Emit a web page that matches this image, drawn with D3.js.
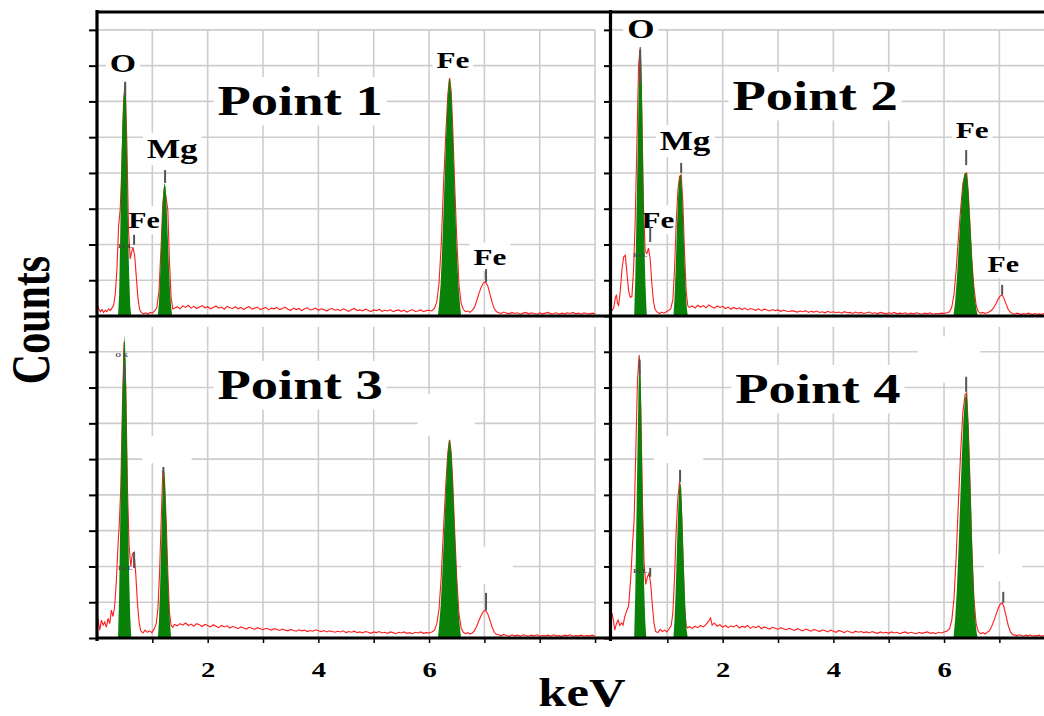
<!DOCTYPE html>
<html>
<head>
<meta charset="utf-8">
<script src="https://cdn.jsdelivr.net/npm/d3@7"></script>
<style>
  body { margin: 0; background: #fff; }
  text { font-family: 'Liberation Serif', 'Times New Roman', serif; font-weight: bold; }
</style>
</head>
<body>
<div id="chart"></div>
<script>
// ---- data (counts in arbitrary units, 100 = one grid step) ----
var titles = ['Point 1', 'Point 2', 'Point 3', 'Point 4'];
var gridCounts = [100, 200, 300, 400, 500, 600, 700, 800];
var axisCounts = [0, 100, 200, 300, 400, 500, 600, 700, 800];
var keVGridLeft = [1, 2, 3, 4, 5, 6, 7, 8, 9];
var keVGridRight = [1, 2, 3, 4, 5, 6, 7];
var keVLabels = [2, 4, 6];

// red spectra [keV, counts]
var p1Spectrum = [[0.00,34],[0.03,22],[0.06,12],[0.09,18],[0.12,10],[0.15,16],[0.18,12],[0.21,20],[0.24,15],[0.27,22],[0.30,30],[0.33,60],[0.36,130],
 [0.39,250],[0.42,300],[0.45,420],[0.48,600],[0.51,650],[0.54,480],[0.57,240],
 [0.60,160],[0.62,175],[0.65,192],[0.68,170],[0.71,110],[0.74,50],[0.77,18],
 [0.80,10],[0.84,6],[0.88,9],[0.92,5],[0.96,10],[1.00,8],[1.04,14],[1.08,22],
 [1.12,70],[1.16,200],[1.19,316],[1.22,360],[1.25,330],[1.28,296],[1.31,150],[1.34,50],[1.37,20],
 [1.40,22],[1.45,26],[1.50,20],[1.55,28],[1.60,24],[1.65,30],[1.70,22],[1.75,27],[1.80,21],[1.85,25],[1.90,29],[1.95,23],[2.00,26],[2.05,20],[2.10,24],[2.15,28],[2.20,22],[2.25,25],[2.30,19],[2.35,27],[2.40,23],[2.45,21],[2.50,26],[2.55,20],[2.60,24],[2.65,18],[2.70,23],[2.75,26],[2.80,19],[2.85,22],[2.90,25],[2.95,18],[3.00,21],[3.05,24],[3.10,17],[3.15,22],[3.20,20],[3.25,24],[3.30,18],[3.35,21],[3.40,25],[3.45,19],[3.50,16],[3.55,22],[3.60,18],[3.65,21],[3.70,15],[3.75,20],[3.80,23],[3.85,17],[3.90,19],[3.95,22],[4.00,16],[4.05,20],[4.10,18],[4.15,14],[4.20,19],[4.25,21],[4.30,16],[4.35,18],[4.40,15],[4.45,20],[4.50,17],[4.55,13],[4.60,18],[4.65,21],[4.70,15],[4.75,17],[4.80,14],[4.85,19],[4.90,16],[4.95,12],[5.00,17],[5.05,15],[5.10,19],[5.15,13],[5.20,16],[5.25,14],[5.30,18],[5.35,12],[5.40,15],[5.45,17],[5.50,13],[5.55,16],[5.60,11],[5.65,15],[5.70,18],[5.75,13],[5.80,14],[5.85,17],[5.90,12],[5.95,15],[6.00,16],[6.05,14],
 [6.10,22],[6.14,40],[6.18,90],[6.22,200],[6.26,360],[6.30,500],[6.34,620],[6.37,665],[6.40,630],[6.43,520],[6.46,380],[6.50,220],[6.54,90],[6.58,35],[6.62,18],[6.66,12],[6.70,14],[6.74,10],[6.78,16],
 [6.82,24],[6.86,42],[6.90,62],[6.94,80],[6.98,92],[7.02,95],[7.06,85],[7.10,62],[7.14,38],[7.18,20],[7.22,12],
 [7.25,10],[7.30,7],[7.35,11],[7.40,8],[7.45,6],[7.50,10],[7.55,7],[7.60,9],[7.65,5],[7.70,8],[7.75,10],[7.80,6],[7.85,9],[7.90,7],[7.95,5],[8.00,9],[8.05,6],[8.10,8],[8.15,10],[8.20,6],[8.25,7],[8.30,9],[8.35,5],[8.40,8],[8.45,6],[8.50,9],[8.55,7],[8.60,10],[8.65,6],[8.70,8],[8.75,5],[8.80,9],[8.85,7],[8.90,6],[8.95,8],[9.00,6]];

var p2Spectrum = [[0.00,15],[0.03,22],[0.06,50],[0.08,60],[0.10,35],[0.12,30],[0.15,70],[0.18,130],[0.21,165],[0.24,170],[0.27,120],[0.30,70],[0.33,52],[0.36,55],[0.39,130],
 [0.42,270],[0.45,480],[0.48,700],[0.51,752],[0.54,560],[0.57,300],
 [0.60,180],[0.63,175],[0.66,190],[0.69,160],[0.72,90],[0.75,40],[0.78,18],
 [0.82,10],[0.86,7],[0.90,11],[0.94,8],[0.98,12],[1.02,15],[1.06,20],[1.10,45],
 [1.13,130],[1.16,260],[1.19,350],[1.22,390],[1.25,395],[1.28,320],[1.31,180],[1.34,70],[1.37,28],
 [1.40,24],[1.45,28],[1.50,22],[1.55,30],[1.60,25],[1.65,29],[1.70,23],[1.75,31],[1.80,26],[1.85,22],[1.90,28],[1.95,24],[2.00,27],[2.05,21],[2.10,25],[2.15,19],[2.20,24],[2.25,20],[2.30,23],[2.35,18],[2.40,22],[2.45,17],[2.50,21],[2.55,19],[2.60,16],[2.65,20],[2.70,15],[2.75,19],[2.80,17],[2.85,14],[2.90,18],[2.95,15],[3.00,17],[3.05,13],[3.10,16],[3.15,14],[3.20,12],[3.25,15],[3.30,13],[3.35,11],[3.40,14],[3.45,12],[3.50,15],[3.55,10],[3.60,13],[3.65,11],[3.70,14],[3.75,10],[3.80,12],[3.85,9],[3.90,13],[3.95,10],[4.00,12],[4.05,9],[4.10,11],[4.15,8],[4.20,12],[4.25,9],[4.30,10],[4.35,7],[4.40,11],[4.45,8],[4.50,10],[4.55,7],[4.60,9],[4.65,11],[4.70,7],[4.75,9],[4.80,6],[4.85,10],[4.90,8],[4.95,6],[5.00,9],[5.05,7],[5.10,10],[5.15,6],[5.20,8],[5.25,7],[5.30,9],[5.35,5],[5.40,8],[5.45,6],[5.50,9],[5.55,7],[5.60,5],[5.65,8],[5.70,6],[5.75,9],[5.80,5],[5.85,7],[5.90,6],[5.95,8],[6.00,7],[6.05,9],
 [6.10,12],[6.14,25],[6.18,60],[6.22,130],[6.26,220],[6.30,300],[6.34,370],[6.38,398],[6.41,400],[6.44,340],[6.47,250],[6.50,160],[6.54,80],[6.58,30],[6.62,12],[6.66,8],[6.70,10],[6.74,7],[6.78,9],[6.82,12],
 [6.86,16],[6.90,24],[6.94,35],[6.98,48],[7.02,57],[7.05,59],[7.08,50],[7.12,34],[7.16,18],[7.20,10],[7.24,7],
 [7.28,5],[7.32,8],[7.36,6],[7.40,4],[7.44,7],[7.48,5],[7.52,8],[7.56,6],[7.60,4],[7.64,7],[7.68,5],[7.72,6],[7.76,4],[7.80,7],[7.84,5]];

var p3Spectrum = [[0.00,70],[0.03,40],[0.05,22],[0.08,50],[0.11,36],[0.14,45],[0.17,30],[0.20,55],[0.23,40],[0.26,78],[0.29,60],[0.32,90],[0.35,160],[0.38,260],[0.40,310],
 [0.43,420],[0.46,650],[0.49,828],[0.52,700],[0.55,420],[0.58,260],
 [0.61,200],[0.64,235],[0.67,240],[0.70,180],[0.73,100],[0.76,45],[0.79,20],
 [0.83,14],[0.87,22],[0.91,16],[0.95,20],[0.99,15],[1.03,24],[1.07,40],
 [1.10,80],[1.13,180],[1.16,330],[1.19,470],[1.22,440],[1.25,330],[1.28,180],[1.31,70],[1.34,35],
 [1.37,30],[1.40,38],[1.45,34],[1.50,40],[1.55,36],[1.60,42],[1.65,35],[1.70,39],[1.75,33],[1.80,40],[1.85,37],[1.90,32],[1.95,38],[2.00,35],[2.05,31],[2.10,37],[2.15,33],[2.20,29],[2.25,35],[2.30,31],[2.35,34],[2.40,28],[2.45,32],[2.50,30],[2.55,26],[2.60,31],[2.65,28],[2.70,25],[2.75,30],[2.80,27],[2.85,24],[2.90,29],[2.95,26],[3.00,23],[3.05,27],[3.10,25],[3.15,22],[3.20,26],[3.25,24],[3.30,21],[3.35,25],[3.40,22],[3.45,20],[3.50,24],[3.55,21],[3.60,19],[3.65,23],[3.70,20],[3.75,22],[3.80,18],[3.85,21],[3.90,19],[3.95,23],[4.00,20],[4.05,18],[4.10,21],[4.15,17],[4.20,20],[4.25,18],[4.30,16],[4.35,19],[4.40,17],[4.45,20],[4.50,15],[4.55,18],[4.60,16],[4.65,19],[4.70,15],[4.75,17],[4.80,14],[4.85,18],[4.90,16],[4.95,13],[5.00,17],[5.05,15],[5.10,18],[5.15,14],[5.20,16],[5.25,13],[5.30,17],[5.35,15],[5.40,12],[5.45,16],[5.50,14],[5.55,17],[5.60,13],[5.65,15],[5.70,12],[5.75,16],[5.80,14],[5.85,17],[5.90,13],[5.95,15],[6.00,14],[6.05,17],
 [6.10,22],[6.14,40],[6.18,80],[6.22,170],[6.26,300],[6.30,420],[6.34,520],[6.37,554],[6.40,520],[6.43,430],[6.46,310],[6.50,170],[6.54,70],[6.58,28],[6.62,16],[6.66,12],[6.70,15],[6.74,11],[6.78,14],
 [6.82,20],[6.86,32],[6.90,48],[6.94,62],[6.98,74],[7.02,78],[7.06,68],[7.10,50],[7.14,30],[7.18,16],[7.22,10],
 [7.26,9],[7.30,6],[7.35,10],[7.40,7],[7.45,5],[7.50,9],[7.55,6],[7.60,8],[7.65,5],[7.70,9],[7.75,7],[7.80,5],[7.85,8],[7.90,6],[7.95,9],[8.00,5],[8.05,7],[8.10,6],[8.15,8],[8.20,5],[8.25,9],[8.30,6],[8.35,7],[8.40,5],[8.45,8],[8.50,6],[8.55,9],[8.60,5],[8.65,7],[8.70,6],[8.75,8],[8.80,5],[8.85,7],[8.90,6],[8.95,8],[9.00,5]];

var p4Spectrum = [[0.00,70],[0.03,45],[0.05,22],[0.08,40],[0.11,50],[0.14,35],[0.17,42],[0.20,36],[0.23,60],[0.26,73],[0.30,90],[0.34,170],[0.37,260],
 [0.40,330],[0.43,520],[0.46,720],[0.49,790],[0.52,640],[0.55,380],[0.58,210],
 [0.61,150],[0.64,170],[0.67,182],[0.70,150],[0.73,90],[0.76,40],[0.79,18],
 [0.83,15],[0.87,24],[0.91,18],[0.95,22],[0.99,17],[1.03,25],[1.07,35],
 [1.10,70],[1.13,170],[1.16,300],[1.19,390],[1.22,436],[1.25,380],[1.28,240],[1.31,90],[1.34,35],
 [1.37,28],[1.40,32],[1.45,27],[1.50,33],[1.55,29],[1.60,35],[1.65,31],[1.70,38],[1.75,48],[1.78,56],[1.81,36],[1.85,42],[1.90,33],[1.95,37],[2.00,30],[2.05,35],[2.10,29],[2.15,34],[2.20,31],[2.25,36],[2.30,28],[2.35,33],[2.40,30],[2.45,35],[2.50,27],[2.55,32],[2.60,29],[2.65,34],[2.70,26],[2.75,31],[2.80,28],[2.85,25],[2.90,30],[2.95,27],[3.00,24],[3.05,29],[3.10,26],[3.15,23],[3.20,27],[3.25,24],[3.30,21],[3.35,26],[3.40,23],[3.45,20],[3.50,25],[3.55,22],[3.60,19],[3.65,24],[3.70,21],[3.75,18],[3.80,23],[3.85,20],[3.90,17],[3.95,22],[4.00,19],[4.05,16],[4.10,21],[4.15,18],[4.20,15],[4.25,20],[4.30,17],[4.35,14],[4.40,19],[4.45,16],[4.50,18],[4.55,15],[4.60,17],[4.65,14],[4.70,18],[4.75,15],[4.80,13],[4.85,17],[4.90,14],[4.95,16],[5.00,13],[5.05,17],[5.10,14],[5.15,16],[5.20,12],[5.25,15],[5.30,17],[5.35,13],[5.40,16],[5.45,14],[5.50,12],[5.55,16],[5.60,13],[5.65,15],[5.70,17],[5.75,13],[5.80,15],[5.85,12],[5.90,16],[5.95,14],[6.00,17],[6.05,19],
 [6.10,26],[6.14,50],[6.18,110],[6.22,230],[6.26,380],[6.30,520],[6.34,630],[6.38,680],[6.41,685],[6.44,580],[6.47,430],[6.50,260],[6.54,110],[6.58,40],[6.62,18],[6.66,12],[6.70,15],[6.74,11],[6.78,16],[6.82,20],
 [6.86,32],[6.90,48],[6.94,66],[6.98,84],[7.02,95],[7.05,98],[7.08,88],[7.12,62],[7.16,35],[7.20,17],[7.24,10],
 [7.28,8],[7.32,6],[7.36,9],[7.40,7],[7.44,5],[7.48,8],[7.52,6],[7.56,9],[7.60,5],[7.64,7],[7.68,6],[7.72,8],[7.76,5],[7.80,7],[7.84,6]];

// green fitted peaks (O K, Mg K, Fe K-alpha)
var p1Peaks = [
 [[0.38,0],[0.40,60],[0.42,230],[0.44,420],[0.46,540],[0.48,610],[0.50,655],[0.52,640],[0.54,470],[0.56,260],[0.58,120],[0.60,30],[0.62,0]],
 [[1.10,0],[1.12,40],[1.14,110],[1.16,200],[1.18,290],[1.20,350],[1.22,372],[1.24,360],[1.26,300],[1.28,220],[1.30,140],[1.32,70],[1.34,25],[1.36,0]],
 [[6.16,0],[6.18,30],[6.21,90],[6.24,200],[6.27,330],[6.30,470],[6.33,590],[6.36,660],[6.38,665],[6.41,600],[6.44,470],[6.47,320],[6.50,190],[6.53,90],[6.56,30],[6.58,0]]];
var p2Peaks = [
 [[0.40,0],[0.42,100],[0.44,260],[0.46,430],[0.48,620],[0.50,740],[0.52,752],[0.54,640],[0.56,430],[0.58,240],[0.60,110],[0.62,30],[0.63,0]],
 [[1.11,0],[1.13,50],[1.15,130],[1.17,230],[1.19,320],[1.21,375],[1.23,395],[1.25,392],[1.27,340],[1.29,250],[1.31,160],[1.33,80],[1.35,25],[1.37,0]],
 [[6.17,0],[6.20,40],[6.23,100],[6.26,180],[6.29,260],[6.32,330],[6.35,380],[6.38,400],[6.41,398],[6.44,350],[6.47,270],[6.50,180],[6.53,100],[6.56,45],[6.59,15],[6.61,0]]];
var p3Peaks = [
 [[0.38,0],[0.40,120],[0.42,330],[0.44,520],[0.46,680],[0.48,800],[0.50,848],[0.52,760],[0.54,560],[0.56,360],[0.58,180],[0.60,60],[0.62,0]],
 [[1.10,0],[1.12,50],[1.14,140],[1.16,260],[1.18,380],[1.20,478],[1.22,460],[1.24,380],[1.26,280],[1.28,180],[1.30,100],[1.32,40],[1.34,0]],
 [[6.16,0],[6.18,30],[6.21,90],[6.24,180],[6.27,290],[6.30,400],[6.33,500],[6.36,550],[6.38,554],[6.41,500],[6.44,400],[6.47,280],[6.50,170],[6.53,80],[6.56,25],[6.58,0]]];
var p4Peaks = [
 [[0.40,0],[0.42,120],[0.44,320],[0.46,520],[0.48,700],[0.50,797],[0.52,720],[0.54,520],[0.56,320],[0.58,150],[0.60,50],[0.62,0]],
 [[1.11,0],[1.13,50],[1.15,130],[1.17,230],[1.19,330],[1.21,410],[1.23,436],[1.25,420],[1.27,340],[1.29,240],[1.31,150],[1.33,70],[1.35,20],[1.37,0]],
 [[6.17,0],[6.20,50],[6.23,130],[6.26,240],[6.29,370],[6.32,500],[6.35,610],[6.38,670],[6.41,685],[6.44,600],[6.47,460],[6.50,300],[6.53,160],[6.56,60],[6.59,15],[6.61,0]]];

// element line markers [keV, from, to]
var p1Markers = [[0.51,613,655],[1.23,372,408],[0.67,199,227],[7.03,95,131]];
var p2Markers = [[0.51,652,744],[1.25,400,428],[0.69,207,249],[6.40,422,464],[7.05,59,87]];
var p3Markers = [[0.49,716,764],[1.20,456,478],[0.67,196,240],[7.03,78,126]];
var p4Markers = [[0.50,736,778],[1.23,436,470],[0.69,171,196],[6.40,688,730],[7.07,98,129]];

// peak labels [text, keV, counts at baseline, size, hidden]
var p1Labels = [['O',0.47,682,26],['Mg',1.36,442,27],['Fe',0.85,246,23],['Fe',6.43,693,24],['Fe',7.10,143,24]];
var p2Labels = [['O',0.52,777,27],['Mg',1.32,464,27],['Fe',0.83,246,24],['Fe',6.51,498,24],['Fe',7.07,123,23]];
var p3Labels = [['Mg',1.26,506,22,true],['Fe',6.31,590,36,true],['Fe',7.05,173,32,true]];
var p4Labels = [['Mg',1.20,506,22,true],['Fe',6.09,741,40,true],['Fe',7.07,176,22,true]];
// title positions [keV, counts at baseline]
var titlePos = [[3.67,562],[3.67,576],[3.67,668],[3.72,657]];
// tiny instrument labels
var p1Tiny = [['Fe L',0.51,190]];
var p2Tiny = [['Fe L',0.51,165]];
var p3Tiny = [['O K',0.45,785],['Fe L',0.51,190]];
var p4Tiny = [['Fe L',0.51,182]];

// ---- layout ----
var W = 1044, H = 716, KEV_PX = 55.34, SX = 1.3;
var layout = [
  { x0: 97,  x1: 610,  y0: 12,  y1: 316, cmax: 850, grid: keVGridLeft,  vTop: 800 },
  { x0: 612, x1: 1044, y0: 12,  y1: 316, cmax: 850, grid: keVGridRight, vTop: 800 },
  { x0: 97,  x1: 610,  y0: 316, y1: 638, cmax: 900, grid: keVGridLeft,  vTop: 870 },
  { x0: 612, x1: 1044, y0: 316, y1: 638, cmax: 900, grid: keVGridRight, vTop: 870 }
];
var panels = [
  { spec: p1Spectrum, peaks: p1Peaks, marks: p1Markers, labels: p1Labels, tiny: p1Tiny },
  { spec: p2Spectrum, peaks: p2Peaks, marks: p2Markers, labels: p2Labels, tiny: p2Tiny },
  { spec: p3Spectrum, peaks: p3Peaks, marks: p3Markers, labels: p3Labels, tiny: p3Tiny },
  { spec: p4Spectrum, peaks: p4Peaks, marks: p4Markers, labels: p4Labels, tiny: p4Tiny }
];

var svg = d3.select('#chart').append('svg')
  .attr('width', W).attr('height', H)
  .style('display', 'block');

// stretched serif text, optional white box behind it
function label(parent, px, py, txt, size, opt) {
  opt = opt || {};
  var g = parent.append('g')
    .attr('transform', 'translate(' + px + ',' + py + ') scale(' + SX + ',1)' + (opt.rotate ? ' rotate(' + opt.rotate + ')' : ''));
  var t = g.append('text')
    .attr('text-anchor', 'middle')
    .attr('dy', opt.dy || 0)
    .style('font-size', size + 'px')
    .attr('fill', opt.hidden ? 'none' : (opt.color || '#000'))
    .text(txt);
  if (opt.box) {
    var b = t.node().getBBox();
    g.insert('rect', 'text')
      .attr('x', b.x - 3).attr('y', b.y - 1)
      .attr('width', b.width + 6).attr('height', b.height + 2)
      .attr('fill', '#fff');
  }
  return g;
}

var gridLayer = svg.append('g');
var boxLayer = svg.append('g');
var dataLayer = svg.append('g');
var textLayer = svg.append('g');
var axisLayer = svg.append('g');

panels.forEach(function (p, i) {
  var L = layout[i];
  var x = d3.scaleLinear().domain([0, (L.x1 - L.x0) / KEV_PX]).range([L.x0, L.x1]);
  var y = d3.scaleLinear().domain([0, L.cmax]).range([L.y1, L.y0]);
  var hEnd = (i % 2) ? L.x1 : x(d3.max(L.grid));

  // grid
  gridLayer.append('g').selectAll('line').data(gridCounts).enter().append('line')
    .attr('x1', x(0)).attr('x2', hEnd)
    .attr('y1', function (d) { return y(d); }).attr('y2', function (d) { return y(d); })
    .attr('stroke', '#cdcdcd').attr('stroke-width', 1.6);
  gridLayer.append('g').selectAll('line').data(L.grid).enter().append('line')
    .attr('x1', function (d) { return x(d); }).attr('x2', function (d) { return x(d); })
    .attr('y1', y(L.vTop)).attr('y2', y(0))
    .attr('stroke', '#cdcdcd').attr('stroke-width', 1.6);

  // title + peak labels (white boxes break the grid)
  var tp = titlePos[i];
  label(boxLayer, x(tp[0]), y(tp[1]), titles[i], 42, { box: true });
  p.labels.forEach(function (l) {
    label(boxLayer, x(l[1]), y(l[2]), l[0], l[3], { box: true, hidden: !!l[4] });
  });

  // spectrum and fitted peaks
  var clipId = 'clip' + i;
  svg.append('clipPath').attr('id', clipId).append('rect')
    .attr('x', L.x0).attr('y', L.y0).attr('width', L.x1 - L.x0).attr('height', L.y1 - L.y0);
  var dg = dataLayer.append('g').attr('clip-path', 'url(#' + clipId + ')');
  dg.append('path').datum(p.spec)
    .attr('d', d3.line().x(function (d) { return x(d[0]); }).y(function (d) { return y(d[1]); }))
    .attr('fill', 'none').attr('stroke', '#ff1c1c').attr('stroke-width', 1.1);
  dg.selectAll('.peak').data(p.peaks).enter().append('path')
    .attr('d', d3.area().x(function (d) { return x(d[0]); }).y0(y(0)).y1(function (d) { return y(d[1]); }))
    .attr('fill', '#0a820a');
  dg.selectAll('.mark').data(p.marks).enter().append('line')
    .attr('x1', function (d) { return x(d[0]); }).attr('x2', function (d) { return x(d[0]); })
    .attr('y1', function (d) { return y(d[1]); }).attr('y2', function (d) { return y(d[2]); })
    .attr('stroke', '#555').attr('stroke-width', 2);

  // visible label text
  p.tiny.forEach(function (t) {
    textLayer.append('text').attr('x', x(t[1])).attr('y', y(t[2]))
      .attr('text-anchor', 'middle').style('font-size', '7px').attr('fill', '#444').text(t[0]);
  });

  // left ticks
  var tickLen = (i % 2) ? 6 : 8;
  var ax = axisLayer.append('g')
    .attr('transform', 'translate(' + (L.x0 - (i % 2 ? 2 : 0)) + ',0)')
    .call(d3.axisLeft(y).tickValues(axisCounts).tickSize(tickLen).tickFormat(''));
  ax.select('.domain').remove();
  ax.selectAll('line').attr('stroke', '#000').attr('stroke-width', 2);

  // bottom ticks and keV labels
  if (i >= 2) {
    var bx = axisLayer.append('g')
      .attr('transform', 'translate(0,' + L.y1 + ')')
      .call(d3.axisBottom(x).tickValues(L.grid).tickSize(5).tickPadding(18)
        .tickFormat(function (d) { return keVLabels.indexOf(d) >= 0 ? d : ''; }));
    bx.select('.domain').remove();
    bx.selectAll('line').attr('stroke', '#000').attr('stroke-width', 1.5);
    bx.selectAll('text')
      .attr('transform', 'scale(' + SX + ',1)')
      .attr('x', 0)
      .style('font-family', "'Liberation Serif', 'Times New Roman', serif")
      .style('font-weight', 'bold').style('font-size', '22px').attr('fill', '#000');
  }
});

// frame lines
var frame = [
  [96, 12, W, 12], [96, 316, W, 316], [96, 638, W, 638],
  [97, 10, 97, 641], [610.5, 10, 610.5, 641]
];
axisLayer.selectAll('.frame').data(frame).enter().append('line')
  .attr('x1', function (d) { return d[0]; }).attr('y1', function (d) { return d[1]; })
  .attr('x2', function (d) { return d[2]; }).attr('y2', function (d) { return d[3]; })
  .attr('stroke', '#000').attr('stroke-width', 3.2);

// axis titles
label(svg, 31, 320, 'Counts', 42, { rotate: -90, dy: 14 });
label(svg, 582, 706, 'keV', 39);
</script>
</body>
</html>
